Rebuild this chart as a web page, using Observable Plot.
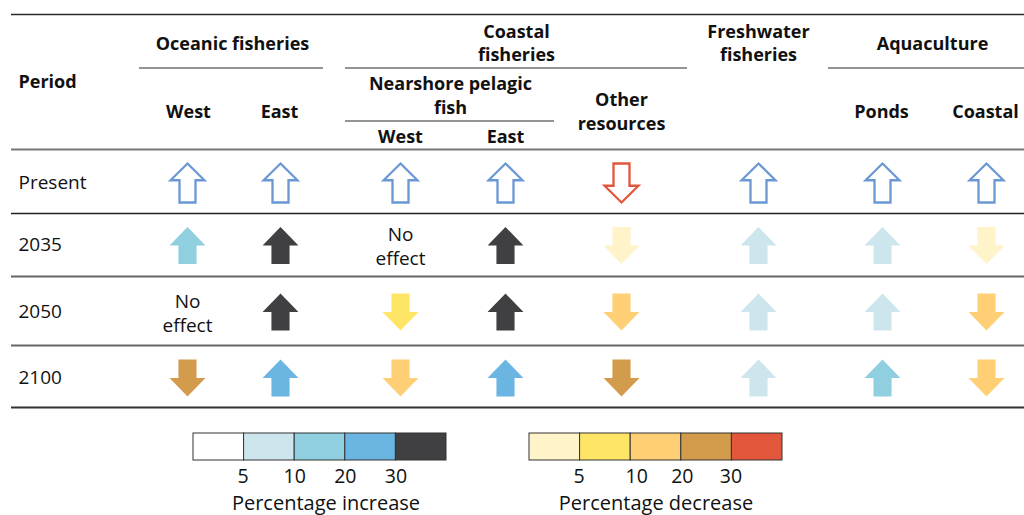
<!DOCTYPE html>
<html>
<head>
<meta charset="utf-8">
<script src="https://cdn.jsdelivr.net/npm/d3@7"></script>
<script src="https://cdn.jsdelivr.net/npm/@observablehq/plot@0.6"></script>
<style>
  html, body { margin: 0; padding: 0; background: #fff; }
  svg { display: block; }
</style>
</head>
<body>
<div id="chart"></div>
<script>
// ---------------- DATA ----------------
const columns = ["Oceanic West", "Oceanic East", "Nearshore West", "Nearshore East",
                 "Other resources", "Freshwater fisheries", "Ponds", "Coastal aquaculture"];
const periods = ["Present", "2035", "2050", "2100"];

// Present: direction only (outline arrows)
const dirPresent = ["up", "up", "up", "up", "down", "up", "up", "up"];
// Future periods: direction and legend class (index into increase/decrease legend)
const dir2035 = ["up", "up", "none", "up", "down", "up", "up", "down"];
const lvl2035 = [2, 4, null, 4, 0, 1, 1, 0];
const dir2050 = ["none", "up", "down", "up", "down", "up", "up", "down"];
const lvl2050 = [null, 4, 1, 4, 2, 1, 1, 2];
const dir2100 = ["down", "up", "down", "up", "down", "up", "up", "down"];
const lvl2100 = [3, 3, 2, 3, 3, 1, 2, 2];

const headerLabels = ["Period", "Oceanic fisheries", "Coastal\nfisheries", "Freshwater\nfisheries",
                      "Aquaculture", "West", "East", "Nearshore pelagic\nfish", "Other\nresources",
                      "West", "East", "Ponds", "Coastal"];
const legendTicks = ["5", "10", "20", "30"];
const legendTitles = ["Percentage increase", "Percentage decrease"];
const noEffectLabel = "No\neffect";

// ---------------- STYLE / LAYOUT ----------------
const increaseColors = ["#ffffff", "#cde6ee", "#8fcfdf", "#6bb5e3", "#404042"];
const decreaseColors = ["#fef3c9", "#fee566", "#fecf74", "#d29c4c", "#e2573b"];
const presentUpColor = "#6a98d4";
const presentDownColor = "#e2573b";
const FONT = "'Open Sans', 'Noto Sans', sans-serif";

const colX = [187, 280, 400, 505, 621, 758, 882, 986];
const rowY = [182.5, 245, 311.5, 377.5];
const headerPos = [
  {x: 18, y: 82, anchor: "start"},
  {x: 232, y: 42}, {x: 516, y: 41.5}, {x: 758, y: 41.5}, {x: 932, y: 42},
  {x: 188, y: 110}, {x: 279, y: 110},
  {x: 450, y: 94}, {x: 621, y: 110},
  {x: 400, y: 135}, {x: 505, y: 135},
  {x: 881, y: 110}, {x: 985, y: 110}
];
const rules = [
  {y: 14, x1: 11, x2: 1024, c: "#2b2b2b", w: 1.5},
  {y: 67.5, x1: 139, x2: 323, c: "#2b2b2b", w: 1.2},
  {y: 67.5, x1: 345, x2: 687, c: "#2b2b2b", w: 1.2},
  {y: 67.5, x1: 828, x2: 1024, c: "#2b2b2b", w: 1.2},
  {y: 120.5, x1: 345, x2: 554, c: "#2b2b2b", w: 1.2},
  {y: 149, x1: 11, x2: 1024, c: "#777", w: 2},
  {y: 213, x1: 11, x2: 1024, c: "#222", w: 1.5},
  {y: 276, x1: 11, x2: 1024, c: "#666", w: 2},
  {y: 345, x1: 11, x2: 1024, c: "#666", w: 2},
  {y: 407, x1: 11, x2: 1024, c: "#333", w: 2}
];
const legends = [
  {x0: 193, colors: increaseColors, title: legendTitles[0], titleDx: 6, tickDx: [-1, 0, 0, 0]},
  {x0: 529, colors: decreaseColors, title: legendTitles[1], titleDx: 0, tickDx: [-1, 6, 1, -1]}
];
const boxW = 50.6, boxY1 = 433, boxY2 = 460;

// ---------------- ARROW SYMBOLS ----------------
function arrow(down, head, hw, sw) {
  return {
    draw(ctx, size) {
      const r = Math.sqrt(size / Math.PI);
      const s = down ? -1 : 1;
      const hy = -r + 2 * r * head;
      const pts = [[0, -r], [hw * r, hy], [sw * r, hy], [sw * r, r], [-sw * r, r], [-sw * r, hy], [-hw * r, hy]];
      pts.forEach(([px, py], i) => i ? ctx.lineTo(px, s * py) : ctx.moveTo(px, s * py));
      ctx.closePath();
    }
  };
}
const filledUp = arrow(false, 0.5, 0.97, 0.49);
const filledDown = arrow(true, 0.5, 0.97, 0.49);
const outlineUp = arrow(false, 0.43, 0.87, 0.41);
const outlineDown = arrow(true, 0.43, 0.87, 0.41);

// ---------------- TABLES ----------------
const presentCells = columns.map((c, i) => ({x: colX[i], y: rowY[0], dir: dirPresent[i]}));
const future = [[dir2035, lvl2035], [dir2050, lvl2050], [dir2100, lvl2100]];
const cells = [];
future.forEach(([dirs, lvls], p) => {
  columns.forEach((c, i) => {
    cells.push({
      col: c, period: periods[p + 1], x: colX[i], y: rowY[p + 1], dir: dirs[i], lvl: lvls[i],
      color: dirs[i] === "up" ? increaseColors[lvls[i]] : dirs[i] === "down" ? decreaseColors[lvls[i]] : null
    });
  });
});
const headers = headerLabels.map((t, i) => ({text: t, ...headerPos[i]}));
const rowLabels = periods.map((p, i) => ({text: p, x: 18, y: rowY[i] - 0.5}));
const legendBoxes = legends.flatMap(L => L.colors.map((col, i) => ({x1: L.x0 + i * boxW, x2: L.x0 + (i + 1) * boxW, fill: col})));
const legendTickLabels = legends.flatMap(L => legendTicks.map((t, i) => ({text: t, x: L.x0 + (i + 1) * boxW + L.tickDx[i]})));
const legendTitleLabels = legends.map(L => ({text: L.title, x: L.x0 + 2.5 * boxW + L.titleDx}));

const plot = Plot.plot({
  width: 1024, height: 515,
  marginTop: 0, marginRight: 0, marginBottom: 0, marginLeft: 0,
  x: {domain: [0, 1024], range: [0, 1024], axis: null},
  y: {domain: [0, 515], range: [0, 515], axis: null},
  style: {fontFamily: FONT, background: "#fff"},
  marks: [
    Plot.ruleY(rules, {y: "y", x1: "x1", x2: "x2", stroke: d => d.c, strokeWidth: d => d.w}),
    // Headers
    Plot.text(headers.filter(d => d.anchor === "start"), {x: "x", y: "y", text: "text", textAnchor: "start",
      fontSize: 18, fontWeight: "bold", fill: "#111"}),
    Plot.text(headers.filter(d => d.anchor !== "start"), {x: "x", y: "y", text: "text", textAnchor: "middle",
      lineAnchor: "middle", lineHeight: 1.3, fontSize: 18, fontWeight: "bold", fill: "#111"}),
    // Row labels
    Plot.text(rowLabels, {x: "x", y: "y", text: "text", textAnchor: "start", fontSize: 19, fill: "#111"}),
    // Present outline arrows
    Plot.dot(presentCells.filter(d => d.dir === "up"), {x: "x", y: "y", r: 19.5, symbol: outlineUp,
      fill: "#fff", stroke: presentUpColor, strokeWidth: 2.3}),
    Plot.dot(presentCells.filter(d => d.dir === "down"), {x: "x", y: "y", r: 19.5, symbol: outlineDown,
      fill: "#fff", stroke: presentDownColor, strokeWidth: 2.3}),
    // Future filled arrows
    Plot.dot(cells.filter(d => d.dir === "up"), {x: "x", y: "y", r: 18.5, symbol: filledUp,
      fill: d => d.color, stroke: "none"}),
    Plot.dot(cells.filter(d => d.dir === "down"), {x: "x", y: "y", r: 18.5, symbol: filledDown,
      fill: d => d.color, stroke: "none"}),
    // No effect
    Plot.text(cells.filter(d => d.dir === "none"), {x: "x", y: "y", text: () => noEffectLabel,
      lineAnchor: "middle", lineHeight: 1.26, fontSize: 19, fill: "#111"}),
    // Legends
    Plot.rect(legendBoxes, {x1: "x1", x2: "x2", y1: () => boxY1, y2: () => boxY2, fill: "fill",
      stroke: "#333", strokeWidth: 1}),
    Plot.text(legendTickLabels, {x: "x", y: () => 476, text: "text", fontSize: 19.5, fill: "#111"}),
    Plot.text(legendTitleLabels, {x: "x", y: () => 503.5, text: "text", fontSize: 20, fill: "#111"})
  ]
});
document.getElementById("chart").appendChild(plot);
</script>
</body>
</html>
